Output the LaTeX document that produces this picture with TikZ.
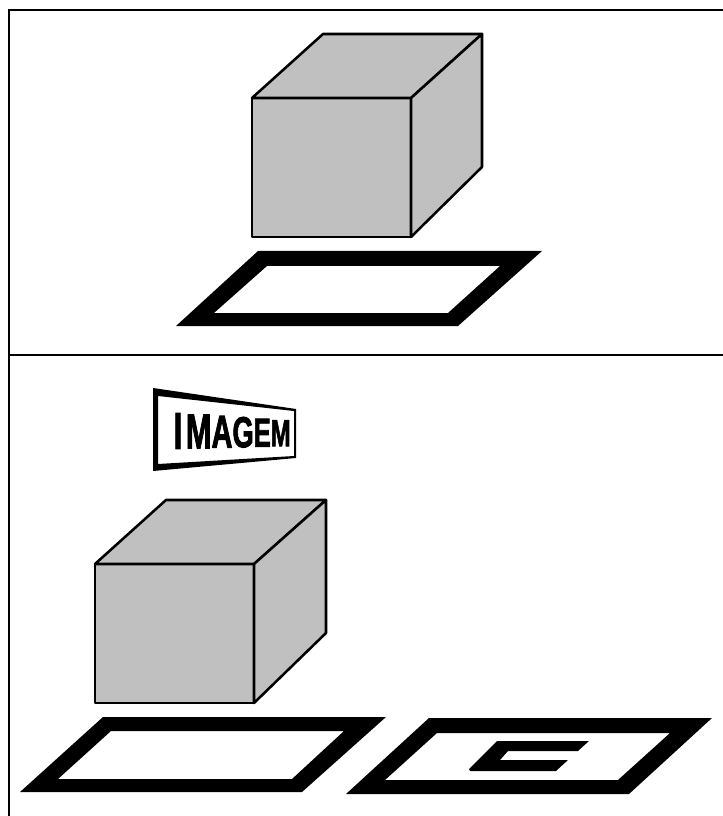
\documentclass[tikz,border=0pt]{standalone}
\usepackage{fontspec}
\setsansfont{Liberation Sans}[BoldFeatures={FakeBold=2.2}]
\usetikzlibrary{positioning}
\definecolor{cubegray}{RGB}{192,192,192}
\newcommand{\signchar}[3]{{\fontsize{#1}{#1}\selectfont\raisebox{#2}{#3}}}

\begin{document}
\begin{tikzpicture}[
  x=0.75pt, y=-0.75pt,
  frameline/.style = {line width=2pt, black},
  cubeface/.style  = {draw=black, fill=cubegray, line width=1.9pt, line join=round},
  board/.style     = {fill=black, even odd rule},
  signtext/.style  = {font=\sffamily\bfseries, inner sep=0pt, xscale=0.63, transform shape},
]
\useasboundingbox (0,0) rectangle (723,816);

% frame
\draw[frameline] (9,816) -- (9,10) -- (723,10);
\draw[frameline] (9,355) -- (723,355);

% upper cube
\draw[cubeface] (252,98) -- (411,98) -- (411,237) -- (252,237) -- cycle;
\draw[cubeface] (252,98) -- (323,34) -- (482,34) -- (411,98) -- cycle;
\draw[cubeface] (411,98) -- (482,34) -- (482,167) -- (411,237) -- cycle;

% lower cube
\draw[cubeface] (95,564) -- (254,564) -- (254,703) -- (95,703) -- cycle;
\draw[cubeface] (95,564) -- (166,500) -- (326,500) -- (254,564) -- cycle;
\draw[cubeface] (254,564) -- (326,500) -- (326,633) -- (254,703) -- cycle;

% boards
\fill[board] (176,326) -- (258,251) -- (542,251) -- (458,326) -- cycle
             (214,313) -- (267,266) -- (500,266) -- (448,313) -- cycle;
\fill[board] (20,792) -- (103,717) -- (386,717) -- (302,792) -- cycle
             (58,779) -- (111,731) -- (344,731) -- (292,779) -- cycle;
\fill[board] (346,794) -- (429,718) -- (712,718) -- (629,794) -- cycle
             (385,780) -- (437,733) -- (670,733) -- (618,780) -- cycle;

% letter on the right board
\fill[black, line join=round] (469,769) -- (497,741) -- (589,741) -- (578,751)
  -- (508,751) -- (500,760) -- (568,760) -- (556,771) -- (470,771) -- cycle;

% sign
\fill[board] (153,388) -- (296,409) -- (296,458) -- (153,471) -- cycle
             (158,396) -- (294,411) -- (294,456) -- (158,464) -- cycle;
\node[signtext] (signword) at (232,431)
  {\signchar{38.8pt}{0pt}{I}\hspace{4pt}\signchar{36.7pt}{0.4pt}{M}\signchar{34.6pt}{0.8pt}{A}\signchar{32.5pt}{1.2pt}{G}\signchar{30.4pt}{1.6pt}{E}\signchar{28.3pt}{2pt}{M}};
\end{tikzpicture}
\end{document}
